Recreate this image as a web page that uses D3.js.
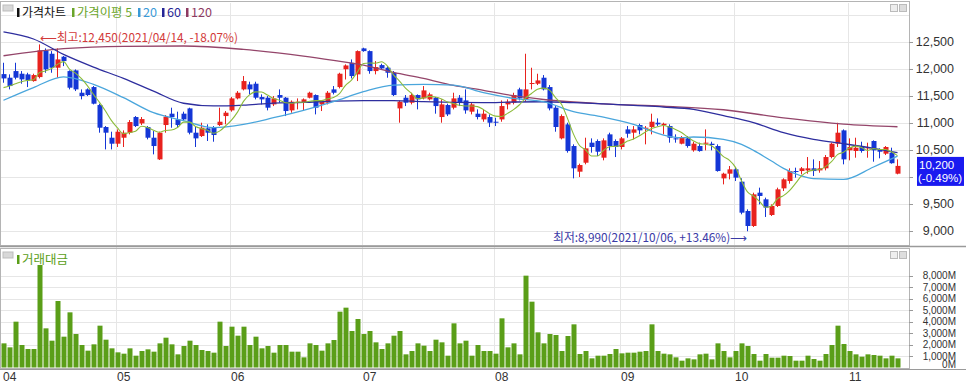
<!DOCTYPE html>
<html><head><meta charset="utf-8">
<script src="https://cdn.jsdelivr.net/npm/d3@7/dist/d3.min.js"></script>
<style>
html,body{margin:0;padding:0;background:#fff;}
svg{display:block;font-family:"Noto Sans CJK KR","Noto Sans",sans-serif;}
.num{font-family:"Liberation Sans","DejaVu Sans",sans-serif;}
</style></head><body>
<svg id="c" width="966" height="384"></svg>
<script>
// ---- data (KRW) ----
const open = [
11900,11833,11956,11907,11895,11771,11845,12339,12277,12018,
12222,11956,11969,11555,11617,11660,11327,10920,10722,10611,
10722,10815,11105,10987,10920,10722,10321,10957,11167,11061,
11167,11265,10815,10753,10895,10920,10957,11123,11228,11450,
11617,11709,11722,11475,11463,11339,11512,11463,11228,11370,
11382,11463,11512,11339,11370,11617,11660,11990,12110,11895,
12376,12326,11956,12067,12018,11925,11265,11463,11370,11512,
11450,11432,11463,11105,11327,11278,11463,11413,11204,11167,
11061,11105,11018,11061,11339,11370,11617,11432,11722,11722,
11833,11660,11278,10710,10969,10568,10093,10259,10630,10661,
10352,10784,10661,10550,10876,10815,10957,10895,10920,11000,
10957,10938,10710,10611,10710,10488,10568,10611,10611,10568,
9969,10056,10136,9908,9365,9087,9704,9581,9291,9458,
9784,9920,10105,10105,10117,10155,10117,10155,10364,10611,
10858,10488,10476,10550,10525,10661,10506,10426,10445,10056];
const high = [
12110,11895,12110,11956,11925,11907,12450,12376,12326,12376,
12234,11969,11987,11617,11635,11679,11352,10938,10833,10876,
10858,11049,11123,11105,10938,10845,10833,11142,11278,11204,
11204,11278,10938,11000,10969,10938,11278,11216,11475,11586,
11864,11759,11759,11524,11493,11493,11617,11475,11413,11450,
11450,11574,11524,11413,11586,11679,11925,12080,12172,12339,
12388,12339,12141,12092,12049,11956,11413,11512,11555,11524,
11679,11555,11475,11432,11352,11555,11512,11617,11370,11247,
11247,11154,11092,11413,11432,11555,11648,12277,12018,11907,
11882,11697,11308,11154,11000,10599,10241,10722,10710,10691,
10710,10815,10691,10735,10938,10938,10981,10938,11167,11080,
11000,10969,10784,10753,10753,10648,10630,10876,10648,10599,
10074,10198,10167,9970,9396,9704,9797,9612,9488,9797,
9970,10155,10167,10179,10364,10321,10290,10401,10630,10999,
10876,10710,10722,10648,10630,10673,10525,10568,10537,10321];
const low = [
11740,11617,11802,11722,11660,11759,11820,11925,11925,11833,
12048,11617,11586,11432,11493,11339,10815,10506,10506,10550,
10550,10784,10920,10957,10691,10414,10309,10815,10907,10907,
11031,10784,10550,10735,10661,10648,10938,10969,11204,11432,
11598,11524,11432,11339,11228,11308,11370,11123,11185,11247,
11228,11450,11154,11216,11339,11524,11635,11800,11820,11771,
12314,11907,11895,11987,11833,11493,11000,11308,11339,11247,
11432,11413,11167,11000,11123,11247,11308,11167,11154,11061,
11018,10920,10938,11018,11247,11339,11413,11389,11617,11697,
11598,11228,10833,10691,10445,9969,9994,10229,10445,10383,
10303,10488,10364,10506,10722,10691,10784,10599,10784,10938,
10784,10630,10630,10599,10537,10463,10463,10488,10488,10093,
9858,9951,9920,9303,8990,9069,9488,9254,9272,9439,
9735,9871,9982,10044,10056,10013,10074,10117,10340,10550,
10229,10303,10352,10445,10352,10278,10340,10401,10241,10044];
const close = [
11820,11679,11833,11802,11783,11882,12339,11987,12018,12172,
12141,11648,11617,11493,11512,11352,10907,10815,10611,10833,
10815,11012,10938,11067,10722,10568,10815,11111,11105,10957,
11061,10815,10710,10907,10815,10772,11018,11185,11450,11555,
11771,11617,11463,11432,11278,11450,11463,11216,11389,11389,
11432,11555,11278,11389,11555,11555,11907,12060,11864,12326,
12326,11956,12030,12005,11925,11512,11389,11370,11512,11432,
11598,11524,11308,11339,11154,11450,11370,11228,11339,11105,
11167,11000,11000,11308,11389,11512,11450,11617,11735,11783,
11617,11265,10920,11123,10475,10155,10216,10525,10550,10463,
10673,10568,10550,10710,10796,10876,10858,10907,11018,10969,
10981,10722,10691,10722,10568,10611,10475,10630,10587,10105,
10056,10136,9982,9334,9087,9673,9643,9427,9458,9766,
9951,10105,10093,10155,10155,10105,10155,10364,10611,10815,
10321,10550,10537,10476,10550,10488,10463,10550,10250,10200];
// trading value, million KRW
const volume = [
2100,1753,3985,1956,1608,1608,8913,3405,2332,5782,
2680,4797,2912,1956,1463,2014,3637,2419,1666,1318,
1202,1666,1028,1434,1579,1376,2100,2593,2014,1144,
1869,2332,1956,1521,1434,1289,3985,1869,3550,2767,
3550,1956,2680,1666,1869,1289,1956,1956,1376,1376,
883,2100,1956,1463,2100,2390,4855,5203,3173,4217,
2912,3173,2188,1608,2100,2767,3173,1144,1434,2100,
1898,1434,2419,2188,1028,3840,2100,2332,1028,1956,
1434,1434,1202,4275,1753,2100,1144,7986,5724,3057,
2100,2912,2825,1434,2738,3753,1173,1434,796,1028,
1028,1173,1608,1231,1289,1289,1376,1434,3753,1434,
1202,1144,883,593,796,709,1144,1202,709,2100,
1434,883,1434,2100,1869,1173,593,1173,854,854,
1028,999,593,593,1028,738,593,1173,1956,3637,
2043,1434,1144,941,1144,1086,1028,796,1028,796];
// moving averages
const ma5 = [
11650,11680,11720,11760,11783,11796,11928,11959,12002,12080,
12131,11993,11919,11814,11682,11524,11376,11216,11039,10904,
10796,10817,10842,10933,10911,10861,10822,10857,10864,10911,
11010,11010,10930,10890,10862,10804,10844,10939,11048,11196,
11396,11516,11571,11568,11512,11448,11417,11368,11359,11381,
11378,11396,11409,11409,11442,11466,11537,11693,11788,11942,
12097,12106,12100,12129,12048,11886,11772,11640,11542,11443,
11460,11487,11475,11440,11385,11355,11324,11308,11308,11298,
11242,11168,11122,11116,11173,11242,11332,11455,11541,11619,
11640,11603,11464,11342,11080,10788,10578,10499,10384,10382,
10485,10556,10561,10593,10659,10700,10758,10829,10891,10926,
10947,10919,10876,10817,10737,10663,10613,10601,10574,10482,
10371,10303,10173,9923,9719,9642,9544,9433,9458,9593,
9649,9741,9875,10014,10092,10123,10133,10187,10278,10410,
10453,10532,10567,10540,10487,10520,10503,10505,10460,10390];
const ma20Idx = [0,5,10,15,20,25,30,35,40,45,50,55,60,65,70,75,80,85,90,95,100,105,110,113,115,120,123,125,128,130,133,135,140,145,149];
const ma20 = [11415,11650,11850,11710,11463,11185,11040,10910,10969,11092,11228,11389,11574,11697,11710,11697,11555,11450,11389,11203,11105,10969,10772,10722,10735,10691,10598,10488,10290,10155,10013,9963,9950,10180,10380];
const ma60Idx = [0,5,10,15,20,25,30,35,40,45,50,55,60,65,70,75,80,85,90,95,100,105,110,115,120,125,130,135,140,145,149];
const ma60 = [12680,12550,12265,12030,11820,11585,11360,11310,11326,11363,11376,11400,11410,11410,11390,11375,11370,11383,11388,11370,11350,11320,11290,11247,11130,11000,10815,10691,10611,10525,10445];
const ma120Idx = [0,10,20,30,40,50,55,60,65,70,75,80,85,90,100,110,120,130,140,149];
const ma120 = [12240,12370,12415,12420,12357,12234,12154,12067,11930,11820,11690,11600,11500,11430,11350,11305,11240,11090,10975,10925];
const monthIdx = [0,19,38,60,82,103,122,141];
const monthLbl = ["04","05","06","07","08","09","10","11"];
const priceTicks = [9000,9500,10000,10500,11000,11500,12000,12500];
const volTicks = [0,1000,2000,3000,4000,5000,6000,7000,8000];

// ---- drawing ----
const svg = d3.select("#c");
const n = close.length;
const x = d3.scaleLinear().domain([0, n-1]).range([3, 897]);
const y = d3.scaleLinear().domain([9000, 12500]).range([230.7, 41.7]);
const yv = d3.scaleLinear().domain([0, 8000]).range([367.5, 275.5]);
const RED = "#e8221e", BLUE = "#1436d6";
const plotR = 909;

svg.append("rect").attr("x",0).attr("y",0).attr("width",966).attr("height",384).attr("fill","#fff");

// grids
const g = svg.append("g");
g.selectAll(".hp").data(priceTicks.concat([13000])).join("line")
  .attr("x1",1).attr("x2",plotR).attr("y1",d=>Math.round(y(d))+0.5).attr("y2",d=>Math.round(y(d))+0.5)
  .attr("stroke","#e6e6e6");
g.selectAll(".hv").data(volTicks.slice(1)).join("line")
  .attr("x1",1).attr("x2",plotR).attr("y1",d=>Math.round(yv(d))+0.5).attr("y2",d=>Math.round(yv(d))+0.5)
  .attr("stroke","#e6e6e6");
g.selectAll(".vm").data(monthIdx.slice(1)).join("line")
  .attr("x1",d=>Math.round(x(d))-0.5).attr("x2",d=>Math.round(x(d))-0.5)
  .attr("y1",3).attr("y2",368).attr("stroke","#e6e6e6");

// panel frames
svg.append("rect").attr("x",0.5).attr("y",1.5).attr("width",plotR).attr("height",244).attr("fill","none").attr("stroke","#b4b4b4");
svg.append("rect").attr("x",0.5).attr("y",248.5).attr("width",plotR).attr("height",120).attr("fill","none").attr("stroke","#b4b4b4");
svg.append("line").attr("x1",0).attr("x2",966).attr("y1",246.5).attr("y2",246.5).attr("stroke","#9a9a9a").attr("stroke-width",1.5);
svg.append("line").attr("x1",0).attr("x2",966).attr("y1",369.5).attr("y2",369.5).attr("stroke","#9a9a9a");

// candles
const cg = svg.append("g");
const idx = d3.range(n);
cg.selectAll(".w").data(idx).join("line")
  .attr("x1",i=>Math.round(x(i))+0.5).attr("x2",i=>Math.round(x(i))+0.5)
  .attr("y1",i=>y(high[i])).attr("y2",i=>y(low[i]))
  .attr("stroke",i=>close[i]>=open[i]?RED:BLUE).attr("stroke-width",1);
cg.selectAll(".b").data(idx).join("rect")
  .attr("x",i=>Math.round(x(i))-1.5).attr("width",5)
  .attr("y",i=>y(Math.max(open[i],close[i])))
  .attr("height",i=>Math.max(1,Math.abs(y(open[i])-y(close[i]))))
  .attr("fill",i=>close[i]>=open[i]?RED:BLUE);

// moving averages
const line = d3.line().curve(d3.curveMonotoneX);
function drawMA(ix, vals, col, w){
  svg.append("path").attr("d", line(ix.map((k,j)=>[x(k)+0.5, y(vals[j])])))
    .attr("fill","none").attr("stroke",col).attr("stroke-width",w);
}
drawMA(ma120Idx, ma120, "#94456a", 1.3);
drawMA(ma60Idx, ma60, "#2e2e9e", 1.3);
drawMA(ma20Idx, ma20, "#4aa6dc", 1.3);
drawMA(idx, ma5, "#8cbb3a", 1.1);

// volume bars
svg.append("g").selectAll("rect").data(idx).join("rect")
  .attr("x",i=>Math.round(x(i))-1.5).attr("width",5)
  .attr("y",i=>yv(volume[i])).attr("height",i=>yv(0)-yv(volume[i]))
  .attr("fill","#5a9e18");

// current price box geometry
const last = close[n-1], prev = close[n-2];
const pct = (last/prev-1)*100;
const by = y(last) - 9;

// right axes
const ax = svg.append("g").attr("font-size",12).attr("fill","#333");
const shownTicks = priceTicks.filter(d => y(d) < by - 6 || y(d) > by + 35);
ax.selectAll(".pt").data(shownTicks).join("text").attr("class","num")
  .attr("x",954).attr("y",d=>y(d)+4.5).attr("text-anchor","end").attr("font-size",12.5)
  .text(d=>d3.format(",")(d));
ax.selectAll(".ptk").data(priceTicks).join("line")
  .attr("x1",plotR).attr("x2",plotR+4).attr("y1",d=>Math.round(y(d))+0.5).attr("y2",d=>Math.round(y(d))+0.5).attr("stroke","#999");
ax.selectAll(".vt").data(volTicks).join("text").attr("class","num")
  .attr("x",956).attr("y",d=>d===0? 367.5 : yv(d)+3.5).attr("text-anchor","end").attr("font-size",10)
  .text(d=>d3.format(",")(d)+"M");
ax.selectAll(".vtk").data(volTicks.slice(1)).join("line")
  .attr("x1",plotR).attr("x2",plotR+4).attr("y1",d=>Math.round(yv(d))+0.5).attr("y2",d=>Math.round(yv(d))+0.5).attr("stroke","#999");

// month labels
ax.selectAll(".ml").data(monthIdx).join("text").attr("class","num")
  .attr("x",(d,i)=> i===0 ? 3 : Math.round(x(d)))
  .attr("y",381).text((d,i)=>monthLbl[i]);

// current price box
svg.append("rect").attr("x",917).attr("y",by).attr("width",47).attr("height",29).attr("fill","#1a1af0");
svg.append("text").attr("class","num").attr("x",919).attr("y",by+12).attr("fill","#fff").attr("font-size",11.5).text(d3.format(",")(last));
svg.append("text").attr("class","num").attr("x",918).attr("y",by+25.5).attr("fill","#fff").attr("font-size",11.5).text("("+pct.toFixed(2)+"%)");

// max / min annotations
const iMax = d3.maxIndex(high), iMin = d3.minIndex(low);
const fmtD = ["2021/04/14","2021/10/06"];
svg.append("text").attr("x",x(iMax)+1).attr("y",y(high[iMax])-2.5).attr("fill","#d23a3a").attr("font-size",12)
  .attr("textLength",198).attr("lengthAdjust","spacingAndGlyphs")
  .text("⟵최고:"+d3.format(",")(high[iMax])+"("+fmtD[0]+", "+((last/high[iMax]-1)*100).toFixed(2)+"%)");
svg.append("text").attr("x",x(iMin)).attr("y",y(low[iMin])+11).attr("text-anchor","end").attr("fill","#3a3aa6").attr("font-size",12)
  .attr("textLength",194).attr("lengthAdjust","spacingAndGlyphs")
  .text("최저:"+d3.format(",")(low[iMin])+"("+fmtD[1]+", +"+((last/low[iMin]-1)*100).toFixed(2)+"%)⟶");

// legends / panel icons
function icon(xx, yy){
  svg.append("rect").attr("x",xx).attr("y",yy).attr("width",10).attr("height",6).attr("fill","#d8d8d8").attr("stroke","#bdbdbd");
}
icon(3,5); icon(3,252);
[[890.5,4.5],[899.5,4.5],[890.5,251.5],[899.5,251.5]].forEach((p,k)=>{
  svg.append("rect").attr("x",p[0]).attr("y",p[1]).attr("width",7).attr("height",7)
    .attr("fill",k%2?"#ddd":"#eee").attr("stroke","#bbb");
});

const leg = [
  {t:"가격차트", c:"#111", x:17, w:44},
  {t:"가격이평 5", c:"#6aa52a", x:72, w:55},
  {t:"20", c:"#3a9ad8", x:138, w:14},
  {t:"60", c:"#252595", x:162, w:14},
  {t:"120", c:"#8e3a62", x:186, w:21}
];
leg.forEach(d=>{
  svg.append("rect").attr("x",d.x).attr("y",8).attr("width",2.5).attr("height",9).attr("fill",d.c);
  svg.append("text").attr("x",d.x+5).attr("y",17).attr("font-size",12).attr("fill",d.c)
    .attr("textLength",d.w).attr("lengthAdjust","spacingAndGlyphs").text(d.t);
});
svg.append("rect").attr("x",17).attr("y",255).attr("width",2.5).attr("height",9).attr("fill","#5a9e18");
svg.append("text").attr("x",22).attr("y",264).attr("font-size",12).attr("fill","#5a9e18")
  .attr("textLength",46).attr("lengthAdjust","spacingAndGlyphs").text("거래대금");
</script>
</body></html>
